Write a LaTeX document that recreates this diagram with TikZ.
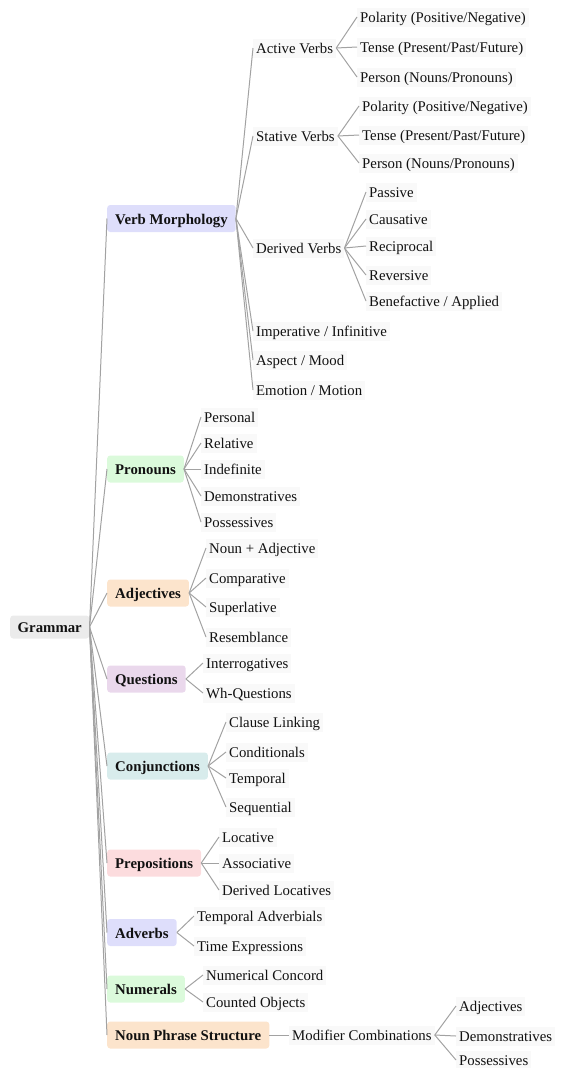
\documentclass[tikz,border=0pt]{standalone}
\usepackage{fontspec}
\setmainfont{Liberation Serif}
\definecolor{txt}{HTML}{111111}
\definecolor{linec}{HTML}{A2A2A2}
\definecolor{leafbg}{HTML}{F9F9F9}
\definecolor{rootbg}{HTML}{EBEBEB}
\definecolor{lav}{HTML}{DEDEFB}
\definecolor{lgreen}{HTML}{DBFADB}
\definecolor{lorange}{HTML}{FCE4CC}
\definecolor{lpurple}{HTML}{EAD8EC}
\definecolor{lteal}{HTML}{D8ECEC}
\definecolor{lpink}{HTML}{FCDCDE}
\tikzset{
  base/.style={anchor=west, font=\fontsize{14.8}{17}\selectfont, text=txt, text height=12.5pt, text depth=1.5pt, inner sep=0pt},
  leaf/.style={base, fill=leafbg, inner xsep=3pt, inner ysep=2.5pt},
  cat/.style={base, font=\fontsize{14.8}{17}\selectfont\bfseries, rounded corners=3pt, inner xsep=8pt, inner ysep=6.5pt},
  rootn/.style={cat, fill=rootbg, inner xsep=7.5pt, inner ysep=4.5pt},
  conn/.style={draw=linec, line width=1pt},
}
\begin{document}
\begin{tikzpicture}[x=1pt,y=-1pt]
\useasboundingbox (0,0) rectangle (571,1068);
% root
\node[rootn] (root) at (10,627) {Grammar};
% categories
\node[cat, fill=lav] (vm) at (107,218.5) {Verb Morphology};
\node[cat, fill=lgreen] (pro) at (107,469) {Pronouns};
\node[cat, fill=lorange] (adj) at (107,593) {Adjectives};
\node[cat, fill=lpurple] (que) at (107,679) {Questions};
\node[cat, fill=lteal] (con) at (107,766) {Conjunctions};
\node[cat, fill=lpink] (pre) at (107,863) {Prepositions};
\node[cat, fill=lav] (adv) at (107,932.5) {Adverbs};
\node[cat, fill=lgreen] (num) at (107,989) {Numerals};
\node[cat, fill=lorange] (nps) at (107,1035) {Noun Phrase Structure};
% verb morphology children
\node[leaf] (av) at (253,48) {Active Verbs};
\node[leaf] (sv) at (253,136) {Stative Verbs};
\node[leaf] (dv) at (253,248) {Derived Verbs};
\node[leaf] (imp) at (253,331) {Imperative / Infinitive};
\node[leaf] (asp) at (253,360) {Aspect / Mood};
\node[leaf] (emo) at (253,390) {Emotion / Motion};
% active verbs leaves
\node[leaf] (av1) at (357,17) {Polarity (Positive/Negative)};
\node[leaf] (av2) at (357,47) {Tense (Present/Past/Future)};
\node[leaf] (av3) at (357,77) {Person (Nouns/Pronouns)};
% stative verbs leaves
\node[leaf] (sv1) at (359,106) {Polarity (Positive/Negative)};
\node[leaf] (sv2) at (359,135) {Tense (Present/Past/Future)};
\node[leaf] (sv3) at (359,163) {Person (Nouns/Pronouns)};
% derived verbs leaves
\node[leaf] (dv1) at (366,192) {Passive};
\node[leaf] (dv2) at (366,219) {Causative};
\node[leaf] (dv3) at (366,246) {Reciprocal};
\node[leaf] (dv4) at (366,275) {Reversive};
\node[leaf] (dv5) at (366,301) {Benefactive / Applied};
% pronouns
\node[leaf] (pro1) at (201,417) {Personal};
\node[leaf] (pro2) at (201,443) {Relative};
\node[leaf] (pro3) at (201,469) {Indefinite};
\node[leaf] (pro4) at (201,496) {Demonstratives};
\node[leaf] (pro5) at (201,522) {Possessives};
% adjectives
\node[leaf] (adj1) at (206,548) {Noun + Adjective};
\node[leaf] (adj2) at (206,578) {Comparative};
\node[leaf] (adj3) at (206,607) {Superlative};
\node[leaf] (adj4) at (206,637) {Resemblance};
% questions
\node[leaf] (que1) at (203,663) {Interrogatives};
\node[leaf] (que2) at (203,693) {Wh-Questions};
% conjunctions
\node[leaf] (con1) at (226,722) {Clause Linking};
\node[leaf] (con2) at (226,752) {Conditionals};
\node[leaf] (con3) at (226,778) {Temporal};
\node[leaf] (con4) at (226,807) {Sequential};
% prepositions
\node[leaf] (pre1) at (219,837) {Locative};
\node[leaf] (pre2) at (219,863) {Associative};
\node[leaf] (pre3) at (219,890) {Derived Locatives};
% adverbs
\node[leaf] (adv1) at (194,916) {Temporal Adverbials};
\node[leaf] (adv2) at (194,946) {Time Expressions};
% numerals
\node[leaf] (num1) at (203,975) {Numerical Concord};
\node[leaf] (num2) at (203,1002) {Counted Objects};
% noun phrase structure
\node[leaf] (mod) at (289,1035) {Modifier Combinations};
\node[leaf] (mod1) at (456,1006) {Adjectives};
\node[leaf] (mod2) at (456,1036) {Demonstratives};
\node[leaf] (mod3) at (456,1060) {Possessives};
% connectors
\foreach \c in {vm,pro,adj,que,con,pre,adv,num,nps} \draw[conn] (root.east) -- (\c.west);
\foreach \c in {av,sv,dv,imp,asp,emo} \draw[conn] (vm.east) -- (\c.west);
\foreach \c in {av1,av2,av3} \draw[conn] (av.east) -- (\c.west);
\foreach \c in {sv1,sv2,sv3} \draw[conn] (sv.east) -- (\c.west);
\foreach \c in {dv1,dv2,dv3,dv4,dv5} \draw[conn] (dv.east) -- (\c.west);
\foreach \c in {pro1,pro2,pro3,pro4,pro5} \draw[conn] (pro.east) -- (\c.west);
\foreach \c in {adj1,adj2,adj3,adj4} \draw[conn] (adj.east) -- (\c.west);
\foreach \c in {que1,que2} \draw[conn] (que.east) -- (\c.west);
\foreach \c in {con1,con2,con3,con4} \draw[conn] (con.east) -- (\c.west);
\foreach \c in {pre1,pre2,pre3} \draw[conn] (pre.east) -- (\c.west);
\foreach \c in {adv1,adv2} \draw[conn] (adv.east) -- (\c.west);
\foreach \c in {num1,num2} \draw[conn] (num.east) -- (\c.west);
\draw[conn] (nps.east) -- (mod.west);
\foreach \c in {mod1,mod2,mod3} \draw[conn] (mod.east) -- (\c.west);
\end{tikzpicture}
\end{document}
